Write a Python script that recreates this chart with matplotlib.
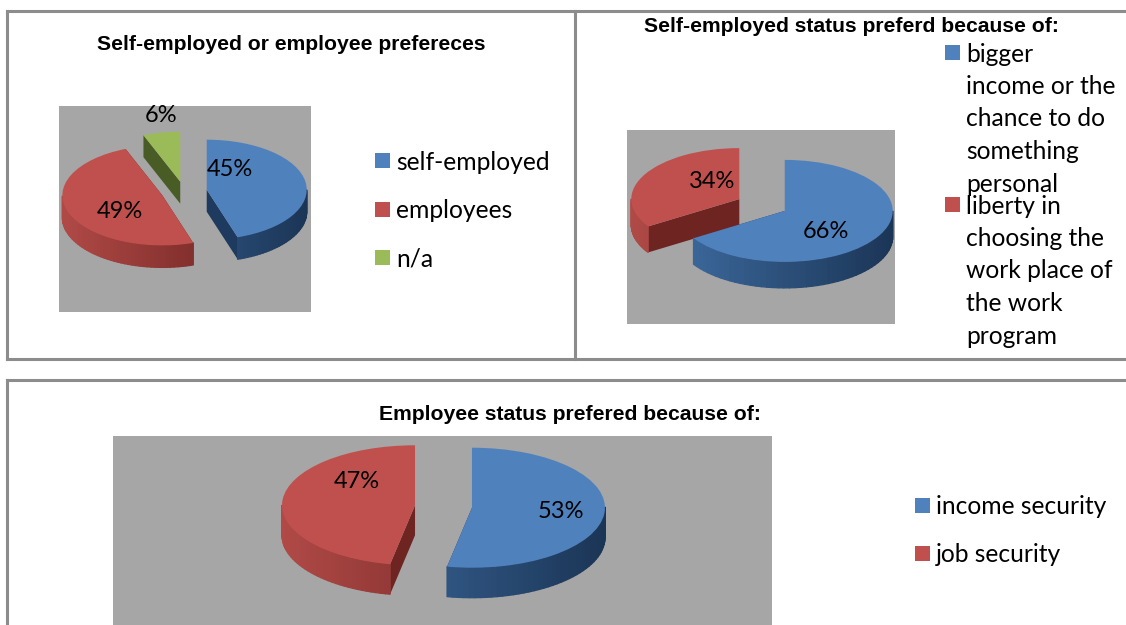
import numpy as np
import matplotlib
matplotlib.use("Agg")
import matplotlib.pyplot as plt
from matplotlib.collections import PolyCollection
from matplotlib.colors import to_rgb
from matplotlib.patches import Rectangle

W, H = 1126, 625

# chart data
pref_values = [45, 49, 6]
pref_labels = ["self-employed", "employees", "n/a"]
pref_title = "Self-employed or employee prefereces"

self_values = [66, 34]
self_labels = ["bigger\nincome or the\nchance to do\nsomething\npersonal",
               "liberty in\nchoosing the\nwork place of\nthe work\nprogram"]
self_title = "Self-employed status preferd because of:"

emp_values = [53, 47]
emp_labels = ["income security", "job security"]
emp_title = "Employee status prefered because of:"

# colors: top, rim light, rim dark, cut face
BLUE = ("#4f81bd", "#3d6a9e", "#1b3556", "#1f3a5f")
RED = ("#c0504d", "#b04a47", "#6b2220", "#6e2421")
GREEN = ("#9bbb59", "#7f9a48", "#4f6128", "#4a5c26")
GREY = "#a6a6a6"
LINE = "#8c8c8c"

plt.rcParams['font.family'] = ['Lato', 'DejaVu Sans']

fig = plt.figure(figsize=(W / 100, H / 100), dpi=100, facecolor="white")

# pixel-space layer for frames, titles and legends
top = fig.add_axes([0, 0, 1, 1], zorder=5)
top.set_xlim(0, W)
top.set_ylim(H, 0)
top.axis("off")


def mix(a, b, t):
    a, b = np.array(to_rgb(a)), np.array(to_rgb(b))
    return tuple(a + (b - a) * t)


def pie3d(box, center, rx, ry, depth, values, colors, explode, label_xy):
    x0, y0, x1, y1 = box
    ax = fig.add_axes([x0 / W, 1 - y1 / H, (x1 - x0) / W, (y1 - y0) / H], zorder=1)
    wedges, _, pct = ax.pie(values, colors=[c[0] for c in colors], explode=explode,
                            startangle=90, counterclock=False, autopct="%.0f%%",
                            wedgeprops={"linewidth": 0})
    # squash the circle into an ellipse
    ax.set_aspect("auto")
    ax.set_xlim((x0 - center[0]) / rx, (x1 - center[0]) / rx)
    ax.set_ylim((center[1] - y1) / ry, (center[1] - y0) / ry)
    ax.set_frame_on(True)
    ax.set_facecolor(GREY)
    for s in ax.spines.values():
        s.set_visible(False)

    d = depth / ry
    for w, c in zip(wedges, colors):
        cx, cy = w.center
        # straight cut faces
        for a in (w.theta1, w.theta2):
            px = cx + w.r * np.cos(np.radians(a))
            py = cy + w.r * np.sin(np.radians(a))
            ax.fill([cx, px, px, cx], [cy, py, py - d, cy - d], color=c[3], lw=0, zorder=0.4)
        # outer rim, darker to the right
        th = np.radians(np.linspace(w.theta1, w.theta2, 80))
        quads, cols = [], []
        for a, b in zip(th[:-1], th[1:]):
            if np.sin((a + b) / 2) > 0:
                continue
            xa, xb = cx + np.cos(a), cx + np.cos(b)
            ya, yb = cy + np.sin(a), cy + np.sin(b)
            quads.append([(xa, ya), (xb, yb), (xb, yb - d), (xa, ya - d)])
            cols.append(mix(c[1], c[2], (1 + np.cos((a + b) / 2)) / 2))
        if quads:
            ax.add_collection(PolyCollection(quads, facecolors=cols, edgecolors=cols,
                                             linewidths=0.9, zorder=0.5))

    for t, xy in zip(pct, label_xy):
        t.set_transform(top.transData)
        t.set_position(xy)
        t.set_fontsize(17)
        t.set_color("black")
        t.set_ha("center")
        t.set_va("center")


def legend(swatch_x, text_x, rows, colors, step=32.5):
    for (y, text), c in zip(rows, colors):
        top.add_patch(Rectangle((swatch_x, y - 7.5), 15, 15, color=c[0], lw=0))
        # the font sits a little high when centred
        for i, line in enumerate(text.split("\n")):
            top.text(text_x, y + 1.5 + i * step, line, fontsize=17.7, color="black",
                     ha="left", va="center")


def title(x, y, text):
    top.text(x, y, text, fontsize=15.25, fontweight="bold", family="Liberation Sans",
             color="black", ha="center", va="center")


# frames
for xs, ys in [((7, W), (11, 11)), ((7, W), (358.5, 358.5)), ((7, 7), (11, 358.5)),
               ((575, 575), (11, 358.5)), ((7, W), (380, 380)), ((7, 7), (380, H))]:
    top.plot(xs, ys, color=LINE, lw=2.2, solid_capstyle="projecting")

pie3d((59, 106, 311, 312), (184, 191.5), 100, 50, 22, pref_values,
      [BLUE, RED, GREEN], [0.23, 0.23, 0.2],
      [(230, 169), (120, 211), (161, 115)])
title(291, 44, pref_title)
legend(375, 396, zip([160.5, 209.5, 257.5], pref_labels), [BLUE, RED, GREEN])

pie3d((627, 130, 895, 324), (762, 205), 108, 51, 26, self_values,
      [BLUE, RED], [0.24, 0.24],
      [(826, 231), (712.5, 181)])
title(851.5, 27, self_title)
legend(945, 966, zip([52.5, 204.5], self_labels), [BLUE, RED])

pie3d((113, 436, 772, 625), (443.5, 506.5), 133, 60, 30, emp_values,
      [BLUE, RED], [0.215, 0.215],
      [(560.5, 512), (357, 482)])
title(570, 414, emp_title)
legend(915, 936, zip([505.5, 553.5], emp_labels), [BLUE, RED])

fig.savefig("out.png", dpi=100)
